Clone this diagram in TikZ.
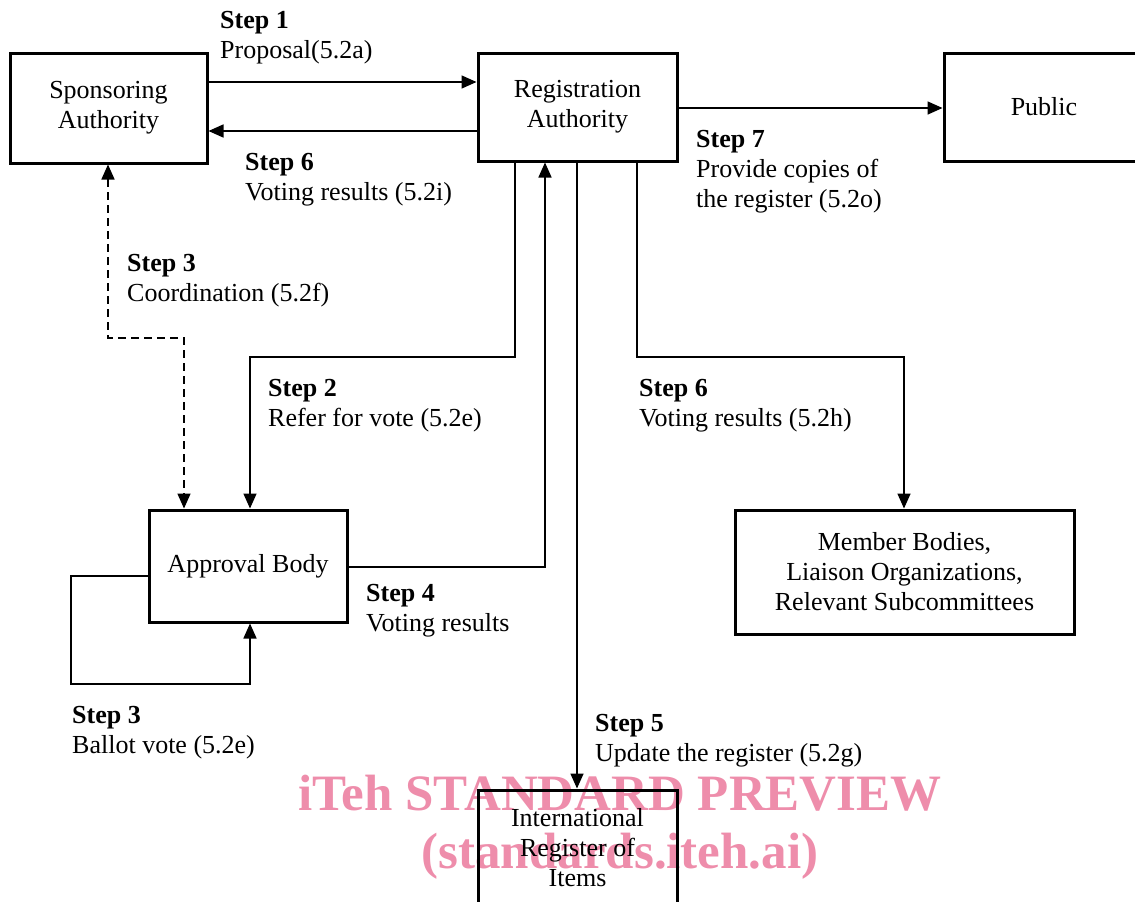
\documentclass[tikz,border=0pt]{standalone}
\usepackage{fontspec}
\setmainfont{Liberation Serif}
\usetikzlibrary{arrows.meta}
\definecolor{wmpink}{HTML}{EE8DAB}
\begin{document}
\begin{tikzpicture}[x=1pt,y=-1pt,
  txt/.style={font=\fontsize{26}{30}\selectfont},
  box/.style={draw, line width=3pt, txt, align=center, inner sep=0pt},
  lbl/.style={txt, align=left, anchor=north west, inner sep=0pt},
  tip/.style={Triangle[length=15pt,width=13pt]},
  conn/.style={line width=1.6pt, -{Triangle[length=15pt,width=13pt]}},
  dsh/.style={line width=1.6pt, dash pattern=on 8pt off 5pt},
  wm/.style={text=wmpink, font=\fontsize{51}{51}\selectfont\bfseries, inner sep=0pt}
]
\useasboundingbox (0,0) rectangle (1135,902);
% watermark (behind)
\node[wm] (wm1) at (620,793) {iTeh STANDARD PREVIEW};
\node[wm] (wm2) at (620,856) {(standards.iteh.ai)};

% boxes
\node[box, minimum width=197pt, minimum height=110pt] (spons) at (108.5,108) {Sponsoring\\Authority};
\node[box, minimum width=199pt, minimum height=108pt] (reg) at (577.5,107) {Registration\\Authority};
\node[box, minimum width=200pt, minimum height=108pt] (pub) at (1044,107) {Public};
\node[box, minimum width=198pt, minimum height=112pt] (appr) at (248,566) {Approval Body};
\node[box, minimum width=339pt, minimum height=124pt] (memb) at (904.5,572) {Member Bodies,\\Liaison Organizations,\\Relevant Subcommittees};
\node[box, minimum width=199pt, minimum height=116pt] (iri) at (577.5,848) {International\\Register of\\Items};

% connectors
\draw[conn] (spons.east |- 0,82) -- (reg.west |- 0,82);
\draw[conn] (reg.west |- 0,131) -- (spons.east |- 0,131);
\draw[conn] (reg.east |- 0,108) -- (pub.west |- 0,108);
\coordinate (c3) at (108,338);
\draw[dsh, {Triangle[length=15pt,width=13pt]}-{Triangle[length=15pt,width=13pt]}]
  (spons.south -| c3) -- (c3) -- (184,338) -- (appr.north -| 184,0);
\draw[conn] (reg.south -| 515,0) -- (515,357) -- (250,357) -- (appr.north -| 250,0);
\draw[conn] (appr.east |- 0,567) -- (545,567) -- (reg.south -| 545,0);
\draw[conn] (reg.south -| 577,0) -- (iri.north -| 577,0);
\draw[conn] (reg.south -| 637,0) -- (637,357) -- (904,357) -- (memb.north -| 904,0);
\draw[conn] (appr.west |- 0,576) -- (71,576) -- (71,684) -- (250,684) -- (appr.south -| 250,0);

% labels
\node[lbl] (l1) at (220,11) {\textbf{Step 1}\\Proposal(5.2a)};
\node[lbl] (l6a) at (245,153) {\textbf{Step 6}\\Voting results (5.2i)};
\node[lbl] (l7) at (696,130) {\textbf{Step 7}\\Provide copies of\\the register (5.2o)};
\node[lbl] (l3a) at (127,254) {\textbf{Step 3}\\Coordination (5.2f)};
\node[lbl] (l2) at (268,379) {\textbf{Step 2}\\Refer for vote (5.2e)};
\node[lbl] (l6b) at (639,379) {\textbf{Step 6}\\Voting results (5.2h)};
\node[lbl] (l4) at (366,584) {\textbf{Step 4}\\Voting results};
\node[lbl] (l5) at (595,714) {\textbf{Step 5}\\Update the register (5.2g)};
\node[lbl] (l3b) at (72,706) {\textbf{Step 3}\\Ballot vote (5.2e)};
\end{tikzpicture}
\end{document}
